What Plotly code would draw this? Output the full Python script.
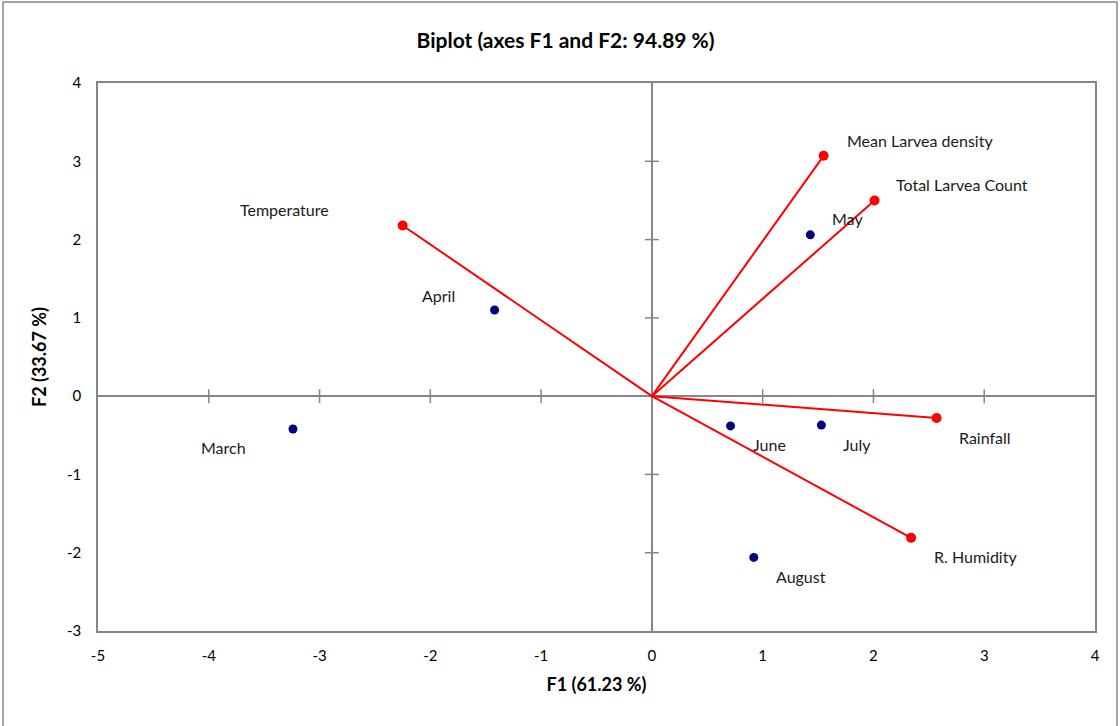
import plotly.graph_objects as go

# Observations (months)
months = ["March", "April", "May", "June", "July", "August"]
month_f1 = [-3.24, -1.42, 1.43, 0.71, 1.53, 0.92]
month_f2 = [-0.42, 1.10, 2.06, -0.38, -0.37, -2.06]

# Variables (vectors)
variables = ["Temperature", "Mean Larvea density", "Total Larvea Count", "Rainfall", "R. Humidity"]
var_f1 = [-2.25, 1.55, 2.01, 2.57, 2.34]
var_f2 = [2.18, 3.07, 2.50, -0.28, -1.81]

x_ticks = [-5, -4, -3, -2, -1, 0, 1, 2, 3, 4]
y_ticks = [-3, -2, -1, 0, 1, 2, 3, 4]
x_tick_text = [str(t) for t in x_ticks]
y_tick_text = [str(t) for t in y_ticks]

FONT = "Lato, Carlito, sans-serif"
GRAY = "#868686"
LABEL_SIZE = 16

# label placement styles (pixel offsets from the point): (xanchor, xshift, yshift)
month_label_style = {
    "March": ("right", -45, -18),
    "April": ("right", -38, 15),
    "May": ("left", 20, 16),
    "June": ("left", 20, -19),
    "July": ("left", 20, -19),
    "August": ("left", 20, -19),
}
var_label_style = {
    "Temperature": ("right", -72, 16),
    "Mean Larvea density": ("left", 21, 15),
    "Total Larvea Count": ("left", 19, 16),
    "Rainfall": ("left", 20, -19),
    "R. Humidity": ("left", 21, -19),
}

fig = go.Figure()

# vectors
for name, fx, fy in zip(variables, var_f1, var_f2):
    fig.add_trace(go.Scatter(
        x=[0, fx], y=[0, fy], mode="lines",
        line=dict(color="#FF0000", width=2), hoverinfo="skip", showlegend=False))
fig.add_trace(go.Scatter(
    x=var_f1, y=var_f2, mode="markers", text=variables,
    marker=dict(color="#FF0000", size=10), showlegend=False))

# months
fig.add_trace(go.Scatter(
    x=month_f1, y=month_f2, mode="markers", text=months,
    marker=dict(color="#000080", size=9), showlegend=False))

# tick marks crossing the zero lines
inner_x = [t for t in x_ticks if t not in (0, x_ticks[0], x_ticks[-1])]
inner_y = [t for t in y_ticks if t not in (0, y_ticks[0], y_ticks[-1])]
fig.add_trace(go.Scatter(
    x=inner_x, y=[0] * len(inner_x), mode="markers",
    marker=dict(symbol="line-ns", size=10, line=dict(color=GRAY, width=1.5)),
    hoverinfo="skip", showlegend=False))
fig.add_trace(go.Scatter(
    x=[0] * len(inner_y), y=inner_y, mode="markers",
    marker=dict(symbol="line-ew", size=10, line=dict(color=GRAY, width=1.5)),
    hoverinfo="skip", showlegend=False))

annotations = []
for name, fx, fy in zip(months, month_f1, month_f2):
    anchor, dx, dy = month_label_style[name]
    annotations.append(dict(x=fx, y=fy, text=name, showarrow=False,
                            xanchor=anchor, yanchor="middle", xshift=dx, yshift=dy,
                            font=dict(family=FONT, size=LABEL_SIZE, color="#1a1a1a")))
for name, fx, fy in zip(variables, var_f1, var_f2):
    anchor, dx, dy = var_label_style[name]
    annotations.append(dict(x=fx, y=fy, text=name, showarrow=False,
                            xanchor=anchor, yanchor="middle", xshift=dx, yshift=dy,
                            font=dict(family=FONT, size=LABEL_SIZE, color="#1a1a1a")))

fig.update_layout(
    width=1120, height=726,
    margin=dict(l=98, r=25, t=83, b=95),
    paper_bgcolor="white", plot_bgcolor="white",
    font=dict(family=FONT, size=15, color="#000000"),
    title=dict(text="<b>Biplot (axes F1 and F2: 94.89 %)</b>", x=0.505, xref="container",
               y=1 - 41 / 726, yref="container", yanchor="middle",
               font=dict(family=FONT, size=21, color="#000000")),
    annotations=annotations,
    shapes=[dict(type="rect", xref="paper", yref="paper",
                 x0=(3 - 98) / 997, x1=(1117 - 98) / 997,
                 y0=(631 - 740) / 548, y1=(631 - 2) / 548,
                 line=dict(color=GRAY, width=1.5), layer="below")],
    hovermode="closest",
)

fig.update_xaxes(
    range=[-5, 4], tickvals=x_ticks, ticktext=x_tick_text, showgrid=False,
    zeroline=True, zerolinecolor=GRAY, zerolinewidth=1.5,
    showline=True, linecolor=GRAY, linewidth=1.5, mirror=True,
    ticks="", ticklen=0, ticklabelstandoff=10, tickfont=dict(family=FONT, size=15),
    title=dict(text="<b>F1 (61.23 %)</b>", font=dict(family=FONT, size=18), standoff=16),
)
fig.update_yaxes(
    range=[-3, 4], tickvals=y_ticks, ticktext=y_tick_text, showgrid=False,
    zeroline=True, zerolinecolor=GRAY, zerolinewidth=1.5,
    showline=True, linecolor=GRAY, linewidth=1.5, mirror=True,
    ticks="", ticklen=0, ticklabelstandoff=12, tickfont=dict(family=FONT, size=15),
    title=dict(text="<b>F2 (33.67 %)</b>", font=dict(family=FONT, size=18), standoff=16),
)

fig.write_html("out.html", config={"displayModeBar": False},
               post_script="document.body.style.margin='0px';")
